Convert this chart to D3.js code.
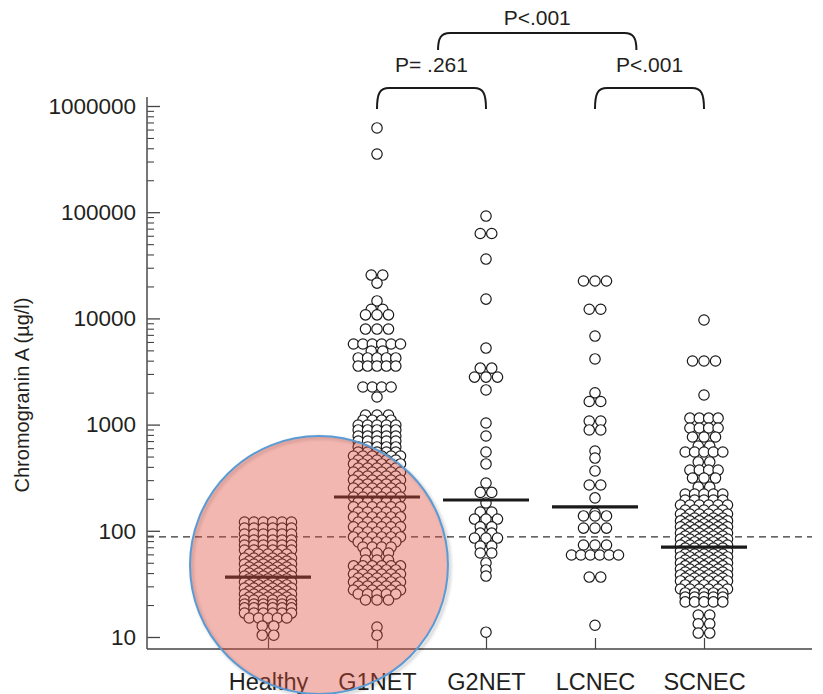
<!DOCTYPE html>
<html lang="en">
<head>
<meta charset="UTF-8">
<title>Chromogranin A by group</title>
<script src="https://cdn.jsdelivr.net/npm/d3@7"></script>
<style>
  body { margin: 0; background: #fff; }
  svg { display: block; font-family: "Liberation Sans", Arial, Helvetica, sans-serif; }
</style>
</head>
<body>
<div id="chart"></div>
<script>
// groups on the x axis
const groups = ["Healthy", "G1NET", "G2NET", "LCNEC", "SCNEC"];

const healthy = [
  121,121,121,121,121,121, 106,106,106,106,106,106, 93.3,93.3,93.3,93.3,93.3,93.3,
  81.9,81.9,81.9,81.9,81.9,81.9, 73.5,73.5,73.5,73.5,73.5,73.5, 65.9,65.9,65.9,65.9,65.9,65.9,
  60.4,60.4,60.4,60.4,60.4, 55.4,55.4,55.4,55.4,55.4,55.4, 51.9,51.9,51.9,51.9,51.9,
  48.7,48.7,48.7,48.7,48.7,48.7, 45.6,45.6,45.6,45.6,45.6, 42.7,42.7,42.7,42.7,42.7,42.7,
  40,40,40,40,40, 37.5,37.5,37.5,37.5,37.5,37.5, 35.2,35.2,35.2,35.2,35.2,
  33,33,33,33,33,33, 30.9,30.9,30.9,30.9,30.9, 28.9,28.9,28.9,28.9,28.9,28.9,
  27.1,27.1,27.1,27.1,27.1, 25.4,25.4,25.4,25.4,25.4,25.4, 23.8,23.8,23.8,23.8,23.8,
  22.3,22.3,22.3,22.3,22.3,22.3, 20.4,20.4,20.4,20.4,20.4,20.4, 18.8,18.8,18.8,18.8,18.8,18.8,
  16.8,16.8,16.8,16.8,16.8,16.8, 15.1,15.1,15.1,15.1,15.1, 12.7,12.7, 10.4,10.4
];
const g1net = [
  621000, 353000, 25600,25600, 21500, 14600, 12200,12200, 10800,10800,10800, 7940,7940,7940,
  5740,5740,5740,5740,5740,5740, 4930,4930, 4240,4240,4240,4240,4240, 3560,3560,3560,3560,3560,
  2260,2260,2260,2260, 1820, 1230,1230,1230, 1100,1100,1100,1100, 991,991,991,991,991,
  890,890,890,890,890, 781,781,781,781,781, 701,701,701,701,701, 616,616,616,616,616,
  552,552,552,552,552, 506,506,506,506,506,506, 464,464,464,464,464, 426,426,426,426,426,426,
  390,390,390,390,390, 358,358,358,358,358,358, 328,328,328,328,328, 301,301,301,301,301,301,
  276,276,276,276,276, 253,253,253,253,253,253, 232,232,232,232,232, 208,208,208,208,208,208,
  187,187,187,187,187, 168,168,168,168,168,168, 150,150,150,150,150, 135,135,135,135,135,135,
  121,121,121,121,121, 109,109,109,109,109,109, 97.5,97.5,97.5,97.5,97.5, 87.5,87.5,87.5,87.5,87.5,87.5,
  78.5,78.5,78.5,78.5,78.5, 70.3,70.3,70.3,70.3, 61.8,61.8,61.8, 53.1,53.1,53.1,
  46.7,46.7,46.7,46.7,46.7,46.7, 42.8,42.8,42.8,42.8,42.8, 39.2,39.2,39.2,39.2,39.2,39.2,
  35.9,35.9,35.9,35.9,35.9, 33,33,33,33,33,33, 30.2,30.2,30.2,30.2,30.2, 27.7,27.7,27.7,27.7,27.7,27.7,
  25.4,25.4,25.4,25.4,25.4, 22.3,22.3,22.3, 12.4, 10.4
];
const g2net = [
  92000, 63000,63000, 36200, 15200, 5260, 3400,3400, 2800,2800,2800, 2120, 1035, 781, 552, 426,
  282, 230,230, 183, 150,150, 129,129,129, 109,109, 95,95, 85.5,85.5,85.5, 71.9,71.9,
  61.8,61.8, 49.8, 42.8, 37.5, 11.1
];
const lcnec = [
  22500,22500,22500, 12200,12200, 6820, 4150, 1990, 1650,1650, 1080,1080, 890,890, 564, 484,
  366, 270,270, 204, 147, 138,138,138, 106,106,106, 73.5,73.5,73.5, 59.2,59.2,59.2,59.2,59.2,59.2,
  36.7,36.7, 12.9
];
const scnec = [
  9660, 3970,3970,3970, 1900, 1150,1150,1150,1150, 929,929,929,929, 764,764,764, 629,629,
  552,552,552,552,552, 445,445, 373,373,373,373, 314,314,314, 258,258, 222,222,222,222,222,
  195,195,195,195,195, 175,175,175,175,175,175, 157,157,157,157,157, 144,144,144,144,144,144,
  132,132,132,132,132, 124,124,124,124,124,124, 116,116,116,116,116, 109,109,109,109,109,109,
  102,102,102,102,102, 95.3,95.3,95.3,95.3,95.3,95.3, 89.3,89.3,89.3,89.3,89.3,
  83.7,83.7,83.7,83.7,83.7,83.7, 78.5,78.5,78.5,78.5,78.5, 73.5,73.5,73.5,73.5,73.5,73.5,
  68.9,68.9,68.9,68.9,68.9, 64.6,64.6,64.6,64.6,64.6,64.6, 60.5,60.5,60.5,60.5,60.5,
  56.7,56.7,56.7,56.7,56.7,56.7, 53.1,53.1,53.1,53.1,53.1, 49.8,49.8,49.8,49.8,49.8,49.8,
  46.7,46.7,46.7,46.7,46.7, 43.7,43.7,43.7,43.7,43.7,43.7, 40.9,40.9,40.9,40.9,40.9,
  38.4,38.4,38.4,38.4,38.4,38.4, 35.9,35.9,35.9,35.9,35.9, 33.7,33.7,33.7,33.7,33.7,33.7,
  30.9,30.9,30.9,30.9,30.9, 28.3,28.3,28.3,28.3,28.3,28.3, 26,26,26,26,26,
  23.8,23.8,23.8,23.8,23.8, 21.4,21.4,21.4,21.4,21.4, 16.1,16.1, 13.3,13.3, 10.9,10.9
];
const medians = [36.7, 208, 195, 168, 70.3];
const cutoff = 87.5;
const yTicks = [10, 100, 1000, 10000, 100000, 1000000];
const comparisons = [
  { label: "P= .261", from: "G1NET", to: "G2NET", level: 0 },
  { label: "P<.001", from: "LCNEC", to: "SCNEC", level: 0 },
  { label: "P<.001", from: "G1NET", to: "SCNEC", level: 1 }
];

const width = 823, height = 694;
const frame = { left: 147, right: 812, top: 97, bottom: 649 };

const svg = d3.select("#chart").append("svg")
  .attr("width", width)
  .attr("height", height);

const x = d3.scalePoint().domain(groups).range([268, 704]);
const y = d3.scaleLog().domain([10, 1000000]).range([637, 106]);

// lay points out in rows: equal values sit side by side
function swarm(values, cx) {
  const out = [];
  d3.groups(values, v => v).forEach(([v, row]) => {
    const n = row.length;
    const step = n > 3 ? 9.4 : 11.5;
    row.forEach((_, i) => out.push({ v, x: cx + (i - (n - 1) / 2) * step }));
  });
  return out;
}

const series = [healthy, g1net, g2net, lcnec, scnec];
const points = series.flatMap((vals, i) => swarm(vals, x(groups[i])));

// dashed reference line
svg.append("line")
  .attr("x1", frame.left).attr("x2", frame.right)
  .attr("y1", y(cutoff)).attr("y2", y(cutoff))
  .attr("stroke", "#333").attr("stroke-width", 1.2)
  .attr("stroke-dasharray", "7,5");

// axes
const yAxis = svg.append("g")
  .attr("transform", `translate(${frame.left},0)`)
  .call(d3.axisLeft(y).tickValues(yTicks).tickFormat(d3.format("d"))
    .tickSizeInner(-13).tickSizeOuter(0).tickPadding(11));
yAxis.select(".domain").remove();
yAxis.selectAll(".tick line").attr("stroke", "#444").attr("stroke-width", 1.3);
yAxis.selectAll(".tick text").attr("font-size", 22.5).attr("fill", "#231f20")
  .attr("font-family", "Liberation Sans, Arial, sans-serif");

const minor = y.ticks().filter(t => !yTicks.includes(t));
svg.append("g")
  .attr("transform", `translate(${frame.left},0)`)
  .call(d3.axisLeft(y).tickValues(minor).tickFormat("").tickSizeInner(-7).tickSizeOuter(0))
  .call(g => g.select(".domain").remove())
  .selectAll(".tick line").attr("stroke", "#444").attr("stroke-width", 1.1);

svg.append("line")
  .attr("x1", frame.left).attr("x2", frame.left)
  .attr("y1", frame.top).attr("y2", frame.bottom)
  .attr("stroke", "#555").attr("stroke-width", 1.6);
svg.append("line")
  .attr("x1", frame.left).attr("x2", frame.right)
  .attr("y1", frame.bottom).attr("y2", frame.bottom)
  .attr("stroke", "#444").attr("stroke-width", 1.6);

const xAxis = svg.append("g")
  .attr("transform", `translate(0,${frame.bottom})`)
  .call(d3.axisBottom(x).tickSizeInner(-11).tickSizeOuter(0).tickPadding(24));
xAxis.select(".domain").remove();
xAxis.selectAll(".tick line").attr("stroke", "#444").attr("stroke-width", 1.2);
xAxis.selectAll(".tick text").attr("font-size", 23.5).attr("fill", "#231f20")
  .attr("font-family", "Liberation Sans, Arial, sans-serif");

svg.append("text")
  .attr("transform", `translate(29,395) rotate(-90)`)
  .attr("text-anchor", "middle")
  .attr("font-size", 20)
  .attr("fill", "#231f20")
  .text("Chromogranin A (µg/l)");

// the dots
svg.append("g").selectAll("circle")
  .data(points)
  .join("circle")
  .attr("cx", d => d.x)
  .attr("cy", d => y(d.v))
  .attr("r", 5.2)
  .attr("fill", "#fff")
  .attr("stroke", "#1a1a1a")
  .attr("stroke-width", 1.2);

// medians
svg.append("g").selectAll("line")
  .data(medians)
  .join("line")
  .attr("x1", (d, i) => x(groups[i]) - 43)
  .attr("x2", (d, i) => x(groups[i]) + 43)
  .attr("y1", d => y(d))
  .attr("y2", d => y(d))
  .attr("stroke", "#1a1a1a")
  .attr("stroke-width", 3.2);

// highlight circle over the healthy group, soft shadow only on its rim
const defs = svg.append("defs");
defs.append("filter").attr("id", "blur")
  .append("feGaussianBlur").attr("stdDeviation", 1.8);

const hx = x("Healthy") + 51, hy = 565, hr = 129;
svg.append("circle")
  .attr("cx", hx + 2).attr("cy", hy + 2).attr("r", hr)
  .attr("fill", "none")
  .attr("stroke", "#000").attr("stroke-opacity", 0.18).attr("stroke-width", 3)
  .attr("filter", "url(#blur)");
svg.append("circle")
  .attr("cx", hx).attr("cy", hy).attr("r", hr)
  .attr("fill", "#db4a3a")
  .attr("fill-opacity", 0.4)
  .attr("stroke", "#5b9bd5")
  .attr("stroke-width", 2);

// significance brackets
const step = x.step();
function bracketPath(x1, x2, yTop, yBot) {
  const r = 12;
  return `M${x1},${yBot} C${x1},${yTop + 5} ${x1 + 3},${yTop} ${x1 + r},${yTop}` +
    ` L${x2 - r},${yTop} C${x2 - 3},${yTop} ${x2},${yTop + 5} ${x2},${yBot}`;
}
const levels = [{ top: 88, bot: 109, text: 72 }, { top: 33, bot: 50, text: 25 }];
comparisons.forEach(c => {
  const lv = levels[c.level];
  let x1 = x(c.from), x2 = x(c.to);
  if (c.level === 1) { x1 = x(c.from) + step * 0.56; x2 = x("LCNEC") + step * 0.38; }
  svg.append("path")
    .attr("d", bracketPath(x1, x2, lv.top, lv.bot))
    .attr("fill", "none")
    .attr("stroke", "#1a1a1a")
    .attr("stroke-width", 2);
  svg.append("text")
    .attr("x", (x1 + x2) / 2)
    .attr("y", lv.text)
    .attr("text-anchor", "middle")
    .attr("font-size", 21)
    .attr("fill", "#231f20")
    .text(c.label);
});
</script>
</body>
</html>
